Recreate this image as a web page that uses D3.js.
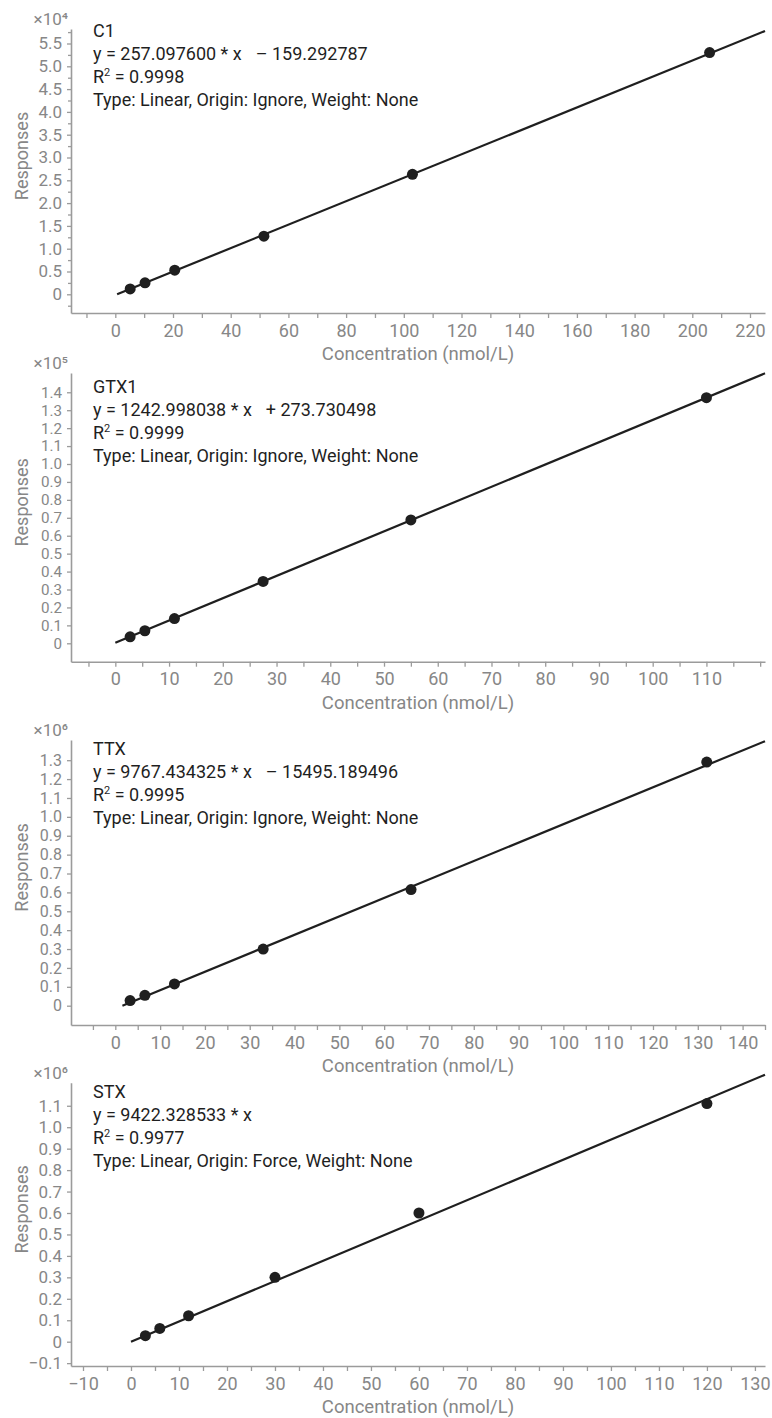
<!DOCTYPE html>
<html><head><meta charset="utf-8">
<script src="https://cdn.jsdelivr.net/npm/d3@7"></script>
<style>
body{margin:0;background:#fff;}
svg text{font-family:Roboto, "Noto Sans", sans-serif;}
.ann{white-space:pre;}
</style></head><body>
<svg id="chart" width="772" height="1418"></svg>
<script>
// ---------- data ----------
const compounds = ["C1", "GTX1", "TTX", "STX"];

const c1Conc   = [5.15, 10.3, 20.6, 51.5, 103, 206];
const c1Resp   = [1180, 2520, 5300, 12750, 26300, 53000];
const gtx1Conc = [2.75, 5.5, 11, 27.5, 55, 110];
const gtx1Resp = [3600, 7000, 13800, 34500, 68800, 137000];
const ttxConc  = [3.3, 6.6, 13.2, 33, 66, 132];
const ttxResp  = [27000, 55000, 115000, 300000, 615000, 1290000];
const stxConc  = [3, 6, 12, 30, 60, 120];
const stxResp  = [28000, 62000, 121000, 300000, 600000, 1110000];

const slopes     = [257.097600, 1242.998038, 9767.434325, 9422.328533];
const intercepts = [-159.292787, 273.730498, -15495.189496, 0];
const eqMain     = ["y = 257.097600 * x", "y = 1242.998038 * x", "y = 9767.434325 * x", "y = 9422.328533 * x"];
const eqOffset   = ["  \u2013 159.292787", "  + 273.730498", "  \u2013 15495.189496", ""];
const r2Values   = ["0.9998", "0.9999", "0.9995", "0.9977"];
const fitTypes   = ["Type: Linear, Origin: Ignore, Weight: None",
                    "Type: Linear, Origin: Ignore, Weight: None",
                    "Type: Linear, Origin: Ignore, Weight: None",
                    "Type: Linear, Origin: Force, Weight: None"];
const yExponents = [4, 5, 6, 6];

// axis ranges (x in nmol/L, y in scaled units of 10^exp)
const c1XDomain   = [-15.36, 225.2];
const gtx1XDomain = [-8.25, 120.9];
const ttxXDomain  = [-9.89, 145.0];
const stxXDomain  = [-12.5, 132.1];
const c1YDomain   = [-0.41, 5.818];
const gtx1YDomain = [-0.1026, 1.5075];
const ttxYDomain  = [-0.1022, 1.407];
const stxYDomain  = [-0.1133, 1.2075];

// tick labels
const c1YTicks     = [0, 0.5, 1.0, 1.5, 2.0, 2.5, 3.0, 3.5, 4.0, 4.5, 5.0, 5.5];
const c1YMinor     = [-0.25, 0.25, 0.75, 1.25, 1.75, 2.25, 2.75, 3.25, 3.75, 4.25, 4.75, 5.25, 5.75];
const gtx1YTicks   = [0, 0.1, 0.2, 0.3, 0.4, 0.5, 0.6, 0.7, 0.8, 0.9, 1.0, 1.1, 1.2, 1.3, 1.4];
const ttxYTicks    = [0, 0.1, 0.2, 0.3, 0.4, 0.5, 0.6, 0.7, 0.8, 0.9, 1.0, 1.1, 1.2, 1.3];
const stxYTicks    = [-0.1, 0, 0.1, 0.2, 0.3, 0.4, 0.5, 0.6, 0.7, 0.8, 0.9, 1.0, 1.1];
const c1XTicks     = [0, 20, 40, 60, 80, 100, 120, 140, 160, 180, 200, 220];
const c1XMinor     = [-10, 10, 30, 50, 70, 90, 110, 130, 150, 170, 190, 210];
const gtx1XTicks   = [0, 10, 20, 30, 40, 50, 60, 70, 80, 90, 100, 110];
const gtx1XMinor   = [-5, 5, 15, 25, 35, 45, 55, 65, 75, 85, 95, 105, 115, 120];
const ttxXTicks    = [0, 10, 20, 30, 40, 50, 60, 70, 80, 90, 100, 110, 120, 130, 140];
const ttxXMinor    = [-5, 5, 15, 25, 35, 45, 55, 65, 75, 85, 95, 105, 115, 125, 135, 145];
const stxXTicks    = [-10, 0, 10, 20, 30, 40, 50, 60, 70, 80, 90, 100, 110, 120, 130];
const stxXMinor    = [-5, 5, 15, 25, 35, 45, 55, 65, 75, 85, 95, 105, 115, 125];

const xTitle = "Concentration (nmol/L)";
const yTitle = "Responses";

// ---------- layout ----------
const plotLeft = 71, plotRight = 765;
const panelTops    = [29, 373, 740, 1082.7];
const panelBottoms = [313, 661.7, 1025, 1366];
const annBaselines = [37, 393, 755, 1098];

const concs = [c1Conc, gtx1Conc, ttxConc, stxConc];
const resps = [c1Resp, gtx1Resp, ttxResp, stxResp];
const xDomains = [c1XDomain, gtx1XDomain, ttxXDomain, stxXDomain];
const yDomains = [c1YDomain, gtx1YDomain, ttxYDomain, stxYDomain];
const yTicksAll = [c1YTicks, gtx1YTicks, ttxYTicks, stxYTicks];
const yMinorAll = [c1YMinor, [], [], []];
const xTicksAll = [c1XTicks, gtx1XTicks, ttxXTicks, stxXTicks];
const xMinorAll = [c1XMinor, gtx1XMinor, ttxXMinor, stxXMinor];

const axisColor = "#9b9b9b", labelColor = "#878787", inkColor = "#1f1f1f";
const svg = d3.select("#chart");
const supDigits = {"4":"\u2074","5":"\u2075","6":"\u2076"};
const fmtY = v => Math.abs(v) < 1e-9 ? "0" : d3.format(".1f")(v);

compounds.forEach((name, i) => {
  const top = panelTops[i], bottom = panelBottoms[i];
  const x = d3.scaleLinear().domain(xDomains[i]).range([plotLeft, plotRight]);
  const y = d3.scaleLinear().domain(yDomains[i]).range([bottom, top]);
  const scale = Math.pow(10, yExponents[i]);
  const g = svg.append("g");

  // y axis
  const yt = yTicksAll[i];
  const spacing = Math.abs(y(yt[1]) - y(yt[0]));
  const yFont = Math.min(17, spacing / 1.18);
  const ya = g.append("g").attr("transform", `translate(${plotLeft},0)`)
    .call(d3.axisLeft(y).tickValues(yt).tickSize(4).tickSizeOuter(0).tickPadding(5).tickFormat(fmtY));
  if (yMinorAll[i].length) {
    g.append("g").attr("transform", `translate(${plotLeft},0)`)
      .call(d3.axisLeft(y).tickValues(yMinorAll[i]).tickSize(3).tickSizeOuter(0).tickFormat(""))
      .select(".domain").remove();
  }
  // x axis
  const xa = g.append("g").attr("transform", `translate(0,${bottom})`)
    .call(d3.axisBottom(x).tickValues(xTicksAll[i]).tickSize(5).tickSizeOuter(0).tickPadding(6).tickFormat(d3.format("d")));
  g.append("g").attr("transform", `translate(0,${bottom})`)
    .call(d3.axisBottom(x).tickValues(xMinorAll[i]).tickSize(5).tickSizeOuter(0).tickFormat(""))
    .select(".domain").remove();

  g.selectAll(".domain").attr("stroke", axisColor).attr("stroke-width", 1.6);
  g.selectAll(".tick line").attr("stroke", axisColor).attr("stroke-width", 1.3);
  g.selectAll(".tick text").attr("fill", labelColor).attr("font-family", "Roboto, sans-serif");
  xa.selectAll(".tick text").attr("font-size", 18);
  ya.selectAll(".tick text").attr("font-size", yFont);

  // exponent label
  g.append("text").attr("x", plotLeft - 3).attr("y", top - 4)
    .attr("text-anchor", "end").attr("fill", labelColor).attr("font-size", 17)
    .text("\u00d710" + supDigits[String(yExponents[i])]);

  // axis titles
  g.append("text").attr("x", (plotLeft + plotRight) / 2).attr("y", bottom + 47)
    .attr("text-anchor", "middle").attr("fill", labelColor).attr("font-size", 18.5).text(xTitle);
  const yc = (top + bottom) / 2 - 15;
  g.append("text").attr("transform", `translate(28,${yc}) rotate(-90)`)
    .attr("text-anchor", "middle").attr("fill", labelColor).attr("font-size", 18).text(yTitle);

  // fit line
  const m = slopes[i], b = intercepts[i];
  const xStart = Math.max(0, -b / m);
  const xEnd = xDomains[i][1];
  const lineData = [xStart, xEnd].map(c => [c, (m * c + b) / scale]);
  g.append("path").datum(lineData)
    .attr("d", d3.line().x(d => x(d[0])).y(d => y(d[1])))
    .attr("stroke", inkColor).attr("stroke-width", 2.2).attr("fill", "none");

  // points
  g.selectAll("circle.pt").data(concs[i].map((c, k) => [c, resps[i][k] / scale]))
    .join("circle").attr("class", "pt")
    .attr("cx", d => x(d[0])).attr("cy", d => y(d[1])).attr("r", 5.5)
    .attr("fill", inkColor);

  // annotation
  const ann = g.append("text").attr("class", "ann").attr("fill", inkColor).attr("font-size", 18);
  const tx = 93, ty = annBaselines[i], lh = 23;
  ann.append("tspan").attr("x", tx).attr("y", ty).text(name);
  ann.append("tspan").attr("x", tx).attr("y", ty + lh).text(eqMain[i]);
  if (eqOffset[i]) ann.append("tspan").attr("dx", 5).text(eqOffset[i]);
  ann.append("tspan").attr("x", tx).attr("y", ty + 2 * lh).text("R");
  ann.append("tspan").attr("dy", -7).attr("font-size", 11).text("2");
  ann.append("tspan").attr("dy", 7).text(" = " + r2Values[i]);
  ann.append("tspan").attr("x", tx).attr("y", ty + 3 * lh).text(fitTypes[i]);
});
</script>
</body></html>
